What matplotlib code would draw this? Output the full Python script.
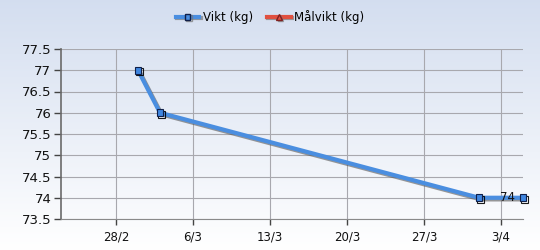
import numpy as np
import matplotlib
matplotlib.use("Agg")
import matplotlib.pyplot as plt
import matplotlib.patheffects as pe
from matplotlib.lines import Line2D
from datetime import datetime

dates = ["2012-03-01", "2012-03-03", "2012-04-01", "2012-04-05"]
weights = [77, 76, 74, 74]
tick_dates = ["2012-02-28", "2012-03-06", "2012-03-13", "2012-03-20", "2012-03-27", "2012-04-03"]
tick_labels = ["28/2", "6/3", "13/3", "20/3", "27/3", "3/4"]
y_ticks = [73.5, 74, 74.5, 75, 75.5, 76, 76.5, 77, 77.5]
y_labels = ["73.5", "74", "74.5", "75", "75.5", "76", "76.5", "77", "77.5"]

x = [datetime.strptime(d, "%Y-%m-%d") for d in dates]
xt = [datetime.strptime(d, "%Y-%m-%d") for d in tick_dates]

fig = plt.figure(figsize=(5.4, 2.5), dpi=100)

# background gradient for whole figure
bg = fig.add_axes([0, 0, 1, 1], zorder=-10)
grad = np.linspace(0, 1, 256).reshape(-1, 1)
top = np.array([0.83, 0.87, 0.94])
bot = np.array([1.0, 1.0, 1.0])
img = top + (bot - top) * grad[..., None]
bg.imshow(img, aspect="auto", extent=[0, 1, 0, 1])
bg.axis("off")

# axes box in pixels: left 61, right 523, top 49, bottom 219
ax = fig.add_axes([61 / 540, (250 - 219) / 250, (523 - 61) / 540, (219 - 49) / 250])
ax.patch.set_alpha(0)

blue = "#4a8ee0"
ax.plot(x, weights, color=blue, lw=3.0, solid_capstyle="round", zorder=3, clip_on=False,
        path_effects=[pe.SimpleLineShadow(offset=(1.2, -1.2), shadow_color="#555555", alpha=0.6),
                      pe.Normal()])
ax.plot(x, weights, ls="none", marker="s", ms=5, mfc="#3f86e0", mec="#10204a", mew=0.8,
        zorder=4, clip_on=False,
        path_effects=[pe.SimpleLineShadow(offset=(1.2, -1.2), shadow_color="black", alpha=0.9),
                      pe.Normal()])
ax.text(x[-1], weights[-1], "74  ", ha="right", va="center", fontsize=8.5, color="#111111", zorder=5)

ax.set_xlim(datetime(2012, 2, 23), datetime(2012, 4, 5))
ax.set_ylim(73.5, 77.5)
ax.set_xticks(xt)
ax.set_xticklabels(tick_labels, fontsize=8.5, color="#111111")
ax.set_yticks(y_ticks)
ax.set_yticklabels(y_labels, fontsize=9.5, color="#111111")
ax.grid(True, color="#a8a8ae", lw=0.8)
ax.tick_params(axis="y", length=5, width=1, color="#444444", pad=2)
ax.tick_params(axis="x", length=4, width=1, color="#444444", pad=4)
for s in ["top", "right"]:
    ax.spines[s].set_visible(False)
ax.spines["left"].set_color("#6a6a6a")
ax.spines["bottom"].set_color("#8a8a8a")
ax.spines["left"].set_linewidth(1.2)

handles = [
    Line2D([], [], color=blue, lw=3, marker="s", ms=4, mfc=blue, mec="#10204a",
           path_effects=[pe.SimpleLineShadow(offset=(1, -1), shadow_color="#777777", alpha=0.7), pe.Normal()]),
    Line2D([], [], color="#e05040", lw=3, marker="^", ms=4, mfc="#e05040", mec="#802020",
           path_effects=[pe.SimpleLineShadow(offset=(1, -1), shadow_color="#777777", alpha=0.7), pe.Normal()]),
]
fig.legend(handles, ["Vikt (kg)", "Målvikt (kg)"], loc="center", bbox_to_anchor=(0.5, 1 - 17 / 250),
           ncol=2, frameon=False, fontsize=8.5, handlelength=2.0, handletextpad=0.3, columnspacing=1.2)

fig.savefig("out.png", dpi=100)
